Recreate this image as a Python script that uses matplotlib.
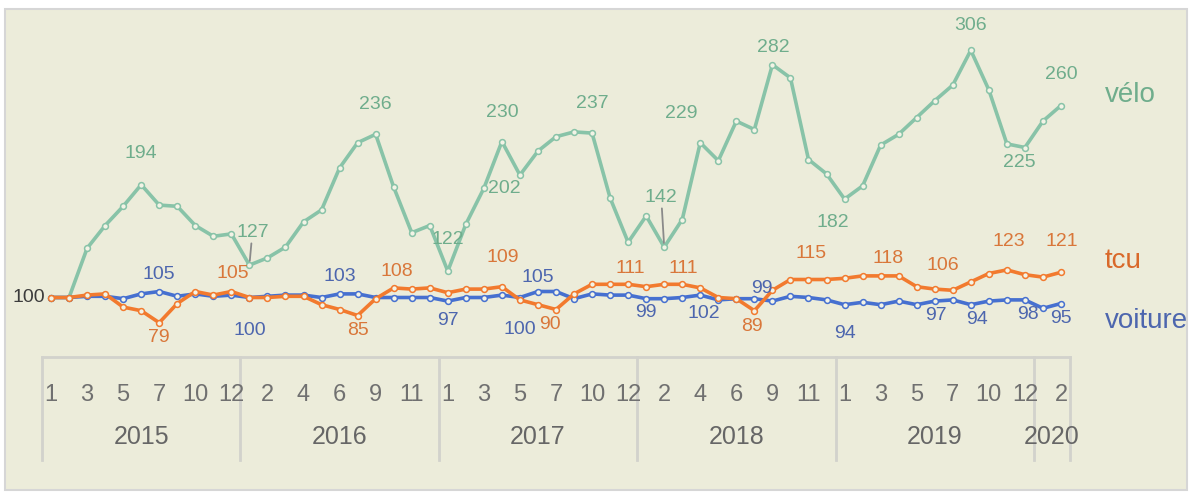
import matplotlib
matplotlib.use("Agg")
import matplotlib.pyplot as plt
from matplotlib.patches import Rectangle
import numpy as np

# months on the axis (august is missing every year)
years = [2015, 2016, 2017, 2018, 2019, 2020]
months_full_year = [1, 2, 3, 4, 5, 6, 7, 9, 10, 11, 12]
months_2020 = [1, 2]

velo = [100, 100, 141, 160, 176, 194, 177, 176, 160, 151, 153,
        127, 133, 142, 163, 173, 208, 229, 236, 192, 154, 160,
        122, 161, 191, 230, 202, 222, 234, 238, 237, 183, 146,
        168, 142, 165, 229, 214, 247, 240, 294, 283, 215, 203,
        182, 193, 227, 236, 250, 264, 277, 306, 273, 228, 225,
        247, 260]
voiture = [100, 100, 101, 101, 99, 103, 105, 101, 103, 101, 102,
           100, 101, 102, 102, 100, 103, 103, 100, 100, 100, 100,
           97, 100, 100, 102, 100, 105, 105, 99, 103, 102, 102,
           99, 99, 100, 102, 98, 99, 99, 97, 101, 100, 98,
           94, 96, 94, 97, 94, 97, 98, 94, 97, 98, 98,
           91, 95]
tcu = [100, 100, 102, 103, 92, 89, 79, 95, 105, 102, 105,
       100, 100, 101, 101, 94, 90, 85, 99, 108, 107, 108,
       104, 107, 107, 109, 98, 94, 90, 103, 111, 111, 111,
       109, 111, 111, 108, 100, 99, 89, 106, 115, 115, 115,
       116, 118, 118, 118, 109, 107, 106, 113, 120, 123, 119,
       117, 121]

# data labels: (index, text)
velo_labels = [(5, "194"), (11, "127"), (18, "236"), (22, "122"), (25, "230"),
               (26, "202"), (30, "237"), (34, "142"), (36, "229"), (40, "282"),
               (44, "182"), (51, "306"), (54, "225"), (56, "260")]
tcu_labels = [(6, "79"), (10, "105"), (17, "85"), (19, "108"), (25, "109"),
              (28, "90"), (32, "111"), (35, "111"), (39, "89"), (42, "115"),
              (46, "118"), (50, "106"), (53, "123"), (56, "121")]
voiture_labels = [(6, "105"), (11, "100"), (16, "103"), (22, "97"), (26, "100"),
                  (27, "105"), (33, "99"), (36, "102"), (39, "99"), (44, "94"),
                  (49, "97"), (51, "94"), (54, "98"), (56, "95")]

# label offsets in pixels (dx, dy)
velo_off = [(0, 31), (3, 33), (0, 30), (0, 32), (0, 29), (-16, -13), (0, 30),
            (-3, 50), (-19, 29), (1, 17), (-12, -23), (0, 25), (-6, -15), (0, 31)]
tcu_off = [(0, -15), (1, 18), (0, -15), (3, 16), (1, 29), (-6, -15), (2, 16),
           (1, 16), (-2, -16), (3, 26), (7, 17), (-10, 25), (2, 28), (1, 31)]
voiture_off = [(0, 17), (0, -33), (0, 17), (0, -19), (0, -32), (0, 14), (0, -14),
               (4, -18), (7, 10), (0, -29), (1, -14), (6, -15), (3, -15), (0, -15)]

BG = "#ECECDA"
GREEN, GREEN_T = "#88C3A8", "#6FAD8C"
ORANGE, ORANGE_T = "#F27A2E", "#D9773A"
BLUE, BLUE_T = "#4670D0", "#4D66AE"
GRID = "#D2D2CC"
FONT = ["Liberation Sans Narrow", "Liberation Sans", "DejaVu Sans"]
plt.rcParams["font.family"] = FONT

W, H = 1193, 492
fig = plt.figure(figsize=(W / 100, H / 100), dpi=100)
fig.patch.set_facecolor("white")
fig.patches.append(Rectangle((5 / W, 2 / H), 1182 / W, 481 / H, transform=fig.transFigure,
                             facecolor=BG, edgecolor="#D6D6D6", linewidth=1.5, zorder=-10))

# plot area: x from 42 to 1070 px, y from 357 px (bottom) up to 9 px
ax = fig.add_axes([42 / W, (H - 357) / H, 1028 / W, 348 / H])
ax.set_facecolor("none")
ax.set_zorder(5)
n = len(velo)
x = np.arange(n)
ax.set_xlim(-0.5, n - 0.5)
ax.set_ylim(100 - (357 - 297.5) / 1.2, 100 + (297.5 - 9) / 1.2)
for s in ["top", "right", "left"]:
    ax.spines[s].set_visible(False)
ax.spines["bottom"].set_color(GRID)
ax.spines["bottom"].set_linewidth(2)
ax.set_xticks([])
ax.set_yticks([])

mk = dict(marker="o", markersize=4.2, markerfacecolor="#F3F3E6", markeredgewidth=1.1)
ax.plot(x, velo, color=GREEN, lw=2.6, markeredgecolor=GREEN, zorder=3, **mk)
ax.plot(x, voiture, color=BLUE, lw=2.6, markeredgecolor=BLUE, zorder=4, **mk)
ax.plot(x, tcu, color=ORANGE, lw=2.6, markeredgecolor=ORANGE, zorder=5, **mk)


def put_labels(values, labels, offsets, color):
    for (i, txt), (dx, dy) in zip(labels, offsets):
        arrow = None
        if abs(dy) > 40 or (txt == "127" and values is velo):
            arrow = dict(arrowstyle="-", color="#8A8A8A", lw=1.3, shrinkA=0, shrinkB=3)
        ax.annotate(txt, xy=(i, values[i]), xytext=(dx, dy), textcoords="offset pixels",
                    ha="center", va="center", fontsize=14, color=color,
                    arrowprops=arrow, zorder=6)


put_labels(velo, velo_labels, velo_off, GREEN_T)
put_labels(tcu, tcu_labels, tcu_off, ORANGE_T)
put_labels(voiture, voiture_labels, voiture_off, BLUE_T)
ax.annotate("100", xy=(0, velo[0]), xytext=(-22, 0), textcoords="offset pixels",
            ha="center", va="center", fontsize=14, color="#3C3C3C", annotation_clip=False)

# series names on the right
ax.annotate("vélo", xy=(n - 1, velo[-1]), xytext=(44, 10), textcoords="offset pixels",
            ha="left", va="center", fontsize=20, color=GREEN_T, annotation_clip=False)
ax.annotate("tcu", xy=(n - 1, tcu[-1]), xytext=(44, 11), textcoords="offset pixels",
            ha="left", va="center", fontsize=20, color="#D9692A", annotation_clip=False)
ax.annotate("voiture", xy=(n - 1, voiture[-1]), xytext=(44, -18), textcoords="offset pixels",
            ha="left", va="center", fontsize=20, color=BLUE_T, annotation_clip=False)

# two-level category axis
points = [(y, m) for y in years[:-1] for m in months_full_year] + [(2020, m) for m in months_2020]
tr = ax.get_xaxis_transform()
for i in range(0, n, 2):
    ax.text(i, -0.11, str(points[i][1]), transform=tr, ha="center", va="center",
            fontsize=17, color="#707070", clip_on=False)

start = 0
ax.plot([-0.5, -0.5], [0, -0.296], transform=tr, color=GRID, lw=2, clip_on=False)
for yr in years:
    count = sum(1 for p in points if p[0] == yr)
    end = start + count
    ax.plot([end - 0.5, end - 0.5], [0, -0.296], transform=tr, color=GRID, lw=2, clip_on=False)
    ax.text((start + end - 1) / 2, -0.23, str(yr), transform=tr, ha="center", va="center",
            fontsize=18, color="#666666", clip_on=False)
    start = end

fig.savefig("out.png", dpi=100, facecolor=fig.get_facecolor())
